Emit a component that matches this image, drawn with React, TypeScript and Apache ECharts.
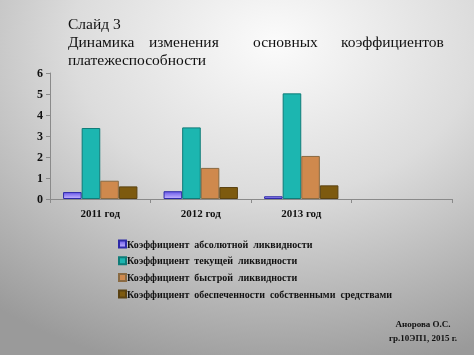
import React, { useEffect, useRef } from "react";
import * as echarts from "echarts";

const categories = ["2011 год", "2012 год", "2013 год", ""];
const seriesNames = [
  "Коэффициент  абсолютной  ликвидности",
  "Коэффициент  текущей  ликвидности",
  "Коэффициент  быстрой  ликвидности",
  "Коэффициент  обеспеченности  собственными  средствами",
];
const absLiquidity = [0.33, 0.37, 0.13, null];
const currentLiquidity = [3.38, 3.41, 5.03, null];
const quickLiquidity = [0.87, 1.48, 2.05, null];
const ownFunds = [0.6, 0.57, 0.65, null];
const yTicks = [0, 1, 2, 3, 4, 5, 6];

const titleLine1 = "Слайд 3";
const titleLine2Words = ["Динамика", "изменения", "основных", "коэффициентов"];
const titleLine3 = "платежеспособности";
const footer = ["Анорова О.С.", "гр.10ЭП1, 2015 г."];

const SERIF = "'Liberation Serif', 'DejaVu Serif', serif";

export default function App() {
  const ref = useRef<HTMLDivElement>(null);
  useEffect(() => {
    if (!ref.current) return;
    const chart = echarts.init(ref.current, undefined, { renderer: "svg" });
    const colors = [
      { fill: new echarts.graphic.LinearGradient(0, 0, 0, 1, [
          { offset: 0, color: "#6a5ae8" },
          { offset: 1, color: "#c4b4ff" },
        ]), border: "#2e2aa8" },
      { fill: "#1cb6b0", border: "#0f7c78" },
      { fill: "#cf894d", border: "#8a6a42" },
      { fill: "#7d5a0f", border: "#5a4212" },
    ];
    const datas = [absLiquidity, currentLiquidity, quickLiquidity, ownFunds];
    const word2X = [68, 149, 253, 341];
    chart.setOption({
      animation: false,
      backgroundColor: new echarts.graphic.RadialGradient(0.58, 0.12, 0.95, [
        { offset: 0, color: "#fbfbfb" },
        { offset: 0.45, color: "#dcdcdc" },
        { offset: 1, color: "#9a9a9a" },
      ]),
      grid: { left: 50, right: 22, top: 73, bottom: 156, containLabel: false },
      xAxis: {
        type: "category",
        data: categories,
        axisLine: { lineStyle: { color: "#8a8a8a", width: 1 } },
        axisTick: { show: true, alignWithLabel: false, length: 4, lineStyle: { color: "#8a8a8a" } },
        axisLabel: { color: "#111", fontFamily: SERIF, fontWeight: "bold", fontSize: 11, margin: 8 },
      },
      yAxis: {
        type: "value",
        min: 0,
        max: 6,
        interval: 1,
        axisLine: { show: true, lineStyle: { color: "#8a8a8a" } },
        axisTick: { show: true, length: 4, lineStyle: { color: "#8a8a8a" } },
        splitLine: { show: false },
        axisLabel: {
          color: "#111",
          fontFamily: SERIF,
          fontWeight: "bold",
          fontSize: 12,
          margin: 7,
          formatter: (v: number) => (yTicks.includes(v) ? String(v) : ""),
        },
      },
      legend: {
        orient: "vertical",
        left: 113,
        top: 234,
        itemWidth: 7,
        itemHeight: 7,
        itemGap: 6.7,
        icon: "rect",
        textStyle: { color: "#111", fontFamily: SERIF, fontWeight: "bold", fontSize: 10, padding: [0, 0, 0, -4] },
        data: seriesNames,
      },
      series: datas.map((d, i) => ({
        name: seriesNames[i],
        type: "bar",
        data: d,
        barGap: "0%",
        barCategoryGap: "26%",
        itemStyle: { color: colors[i].fill, borderColor: colors[i].border, borderWidth: 1 },
      })),
      graphic: [
        { type: "text", left: 68, top: 15, style: { text: titleLine1, font: `15.5px ${SERIF}`, fill: "#111" } },
        ...titleLine2Words.map((w, i) => ({
          type: "text",
          left: word2X[i],
          top: 33,
          style: { text: w, font: `15.5px ${SERIF}`, fill: "#111" },
        })),
        { type: "text", left: 68, top: 51, style: { text: titleLine3, font: `15.5px ${SERIF}`, fill: "#111" } },
        ...footer.map((t, i) => ({
          type: "text",
          x: 423,
          y: 319 + i * 14,
          style: { text: t, font: `bold 9px ${SERIF}`, fill: "#111", align: "center" },
        })),
      ],
    });
    return () => chart.dispose();
  }, []);
  return (
    <div
      ref={ref}
      style={{ position: "fixed", left: 0, top: 0, width: 474, height: 355 }}
    />
  );
}
